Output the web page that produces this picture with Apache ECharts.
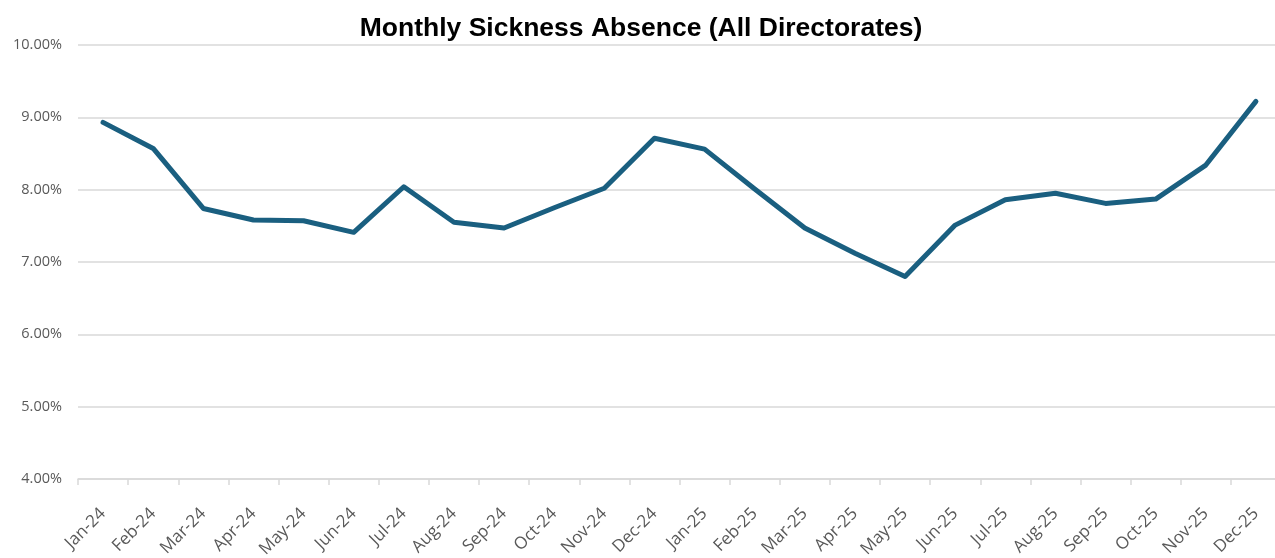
<!DOCTYPE html>
<html>
<head>
<meta charset="utf-8">
<script src="https://cdn.jsdelivr.net/npm/echarts@6/dist/echarts.min.js"></script>
<style>html,body{margin:0;padding:0;background:#fff;overflow:hidden;width:1275px;height:558px;}#c{width:1290px;height:558px;}</style>
</head>
<body>
<div id="c"></div>
<script>
const categories = ['Jan-24','Feb-24','Mar-24','Apr-24','May-24','Jun-24','Jul-24','Aug-24','Sep-24','Oct-24','Nov-24','Dec-24',
  'Jan-25','Feb-25','Mar-25','Apr-25','May-25','Jun-25','Jul-25','Aug-25','Sep-25','Oct-25','Nov-25','Dec-25'];
const absenceRate = [8.93, 8.57, 7.74, 7.58, 7.57, 7.41, 8.04, 7.55, 7.47, 7.75, 8.02, 8.71,
  8.56, 8.01, 7.47, 7.12, 6.80, 7.51, 7.86, 7.95, 7.81, 7.87, 8.34, 9.22];
const yTicks = { min: 4, max: 10, interval: 1 };

const chart = echarts.init(document.getElementById('c'));
chart.setOption({
  animation: false,
  title: {
    text: 'Monthly Sickness Absence (All Directorates)',
    left: 636, textAlign: 'center', top: 10,
    textStyle: { fontFamily: 'Liberation Sans, Arial, sans-serif', fontWeight: 'bold', fontSize: 26.5, color: '#000' }
  },
  grid: { left: 78, right: 9, top: 45, height: 434, containLabel: false, outerBoundsMode: 'none' },
  xAxis: {
    type: 'category',
    data: categories,
    boundaryGap: true,
    axisLine: { lineStyle: { color: '#d9d9d9', width: 1.5 } },
    axisTick: { show: true, length: 6, lineStyle: { color: '#d9d9d9', width: 1.5 } },
    axisLabel: { rotate: 45, interval: 0, color: '#595959', fontSize: 17, fontFamily: 'Open Sans, Noto Sans, sans-serif', margin: 32 }
  },
  yAxis: {
    type: 'value',
    min: yTicks.min, max: yTicks.max, interval: yTicks.interval,
    axisLine: { show: false },
    axisTick: { show: false },
    splitLine: { lineStyle: { color: '#d9d9d9', width: 1.5 } },
    axisLabel: { color: '#595959', fontSize: 14.5, fontFamily: 'Open Sans, Noto Sans, sans-serif', margin: 16,
      formatter: v => v.toFixed(2) + '%' }
  },
  series: [{
    type: 'line',
    data: absenceRate,
    symbol: 'none',
    lineStyle: { color: '#1a5f80', width: 5, cap: 'round', join: 'round' }
  }]
});
</script>
</body>
</html>
